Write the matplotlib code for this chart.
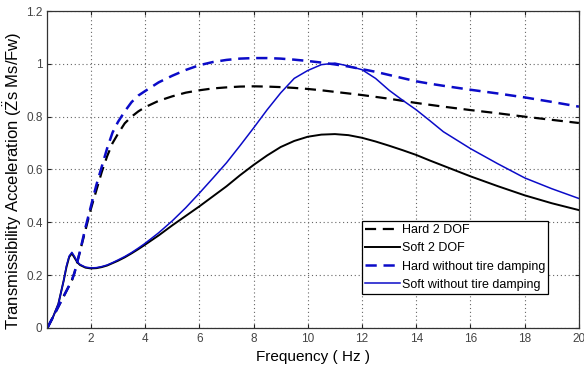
import matplotlib
matplotlib.use("Agg")
import matplotlib.pyplot as plt

plt.rcParams['font.family'] = ['Liberation Sans', 'DejaVu Sans']
plt.rcParams['mathtext.fontset'] = 'custom'
plt.rcParams['mathtext.rm'] = 'Liberation Sans'
plt.rcParams['mathtext.it'] = 'Liberation Sans'

freq = [0.4, 0.6, 0.8, 1.0, 1.1, 1.2, 1.3, 1.4, 1.5, 1.6, 1.8, 2.0, 2.2, 2.4, 2.6,
        2.8, 3.0, 3.25, 3.5, 3.75, 4, 4.5, 5, 5.5, 6, 6.5, 7, 7.5, 8, 8.5, 9, 9.5,
        10, 10.5, 11, 11.5, 12, 12.5, 13, 13.5, 14, 14.5, 15, 16, 17, 18, 19, 20]

hard_2dof = [0.0, 0.04, 0.08, 0.12, 0.14, 0.16, 0.18, 0.21, 0.25, 0.29, 0.37, 0.45,
             0.52, 0.59, 0.65, 0.70, 0.735, 0.775, 0.80, 0.82, 0.836, 0.86, 0.877,
             0.891, 0.900, 0.907, 0.911, 0.914, 0.915, 0.914, 0.912, 0.909, 0.905,
             0.900, 0.894, 0.888, 0.882, 0.875, 0.868, 0.860, 0.852, 0.845, 0.838,
             0.825, 0.813, 0.800, 0.788, 0.776]

soft_2dof = [0.0, 0.04, 0.09, 0.18, 0.23, 0.268, 0.282, 0.265, 0.248, 0.238, 0.228,
             0.225, 0.226, 0.23, 0.236, 0.245, 0.254, 0.267, 0.282, 0.298, 0.315,
             0.35, 0.388, 0.424, 0.46, 0.498, 0.536, 0.578, 0.617, 0.653, 0.685,
             0.708, 0.724, 0.732, 0.734, 0.73, 0.72, 0.706, 0.69, 0.673, 0.655,
             0.634, 0.614, 0.574, 0.537, 0.502, 0.472, 0.446]

hard_no_tire = [0.0, 0.04, 0.08, 0.12, 0.14, 0.16, 0.18, 0.21, 0.25, 0.29, 0.38, 0.46,
                0.54, 0.61, 0.68, 0.74, 0.78, 0.82, 0.855, 0.88, 0.897, 0.93, 0.955,
                0.977, 0.995, 1.007, 1.015, 1.02, 1.022, 1.022, 1.02, 1.016, 1.011,
                1.005, 0.998, 0.99, 0.98, 0.97, 0.958, 0.946, 0.934, 0.925, 0.917,
                0.902, 0.888, 0.873, 0.856, 0.838]

soft_no_tire = [0.005, 0.04, 0.09, 0.18, 0.235, 0.272, 0.286, 0.27, 0.25, 0.24, 0.23,
                0.227, 0.228, 0.232, 0.238, 0.247, 0.257, 0.27, 0.285, 0.302, 0.32,
                0.36, 0.405, 0.455, 0.51, 0.567, 0.625, 0.69, 0.757, 0.826, 0.89,
                0.945, 0.975, 0.997, 1.003, 0.992, 0.978, 0.945, 0.9, 0.862, 0.826,
                0.785, 0.743, 0.679, 0.622, 0.568, 0.527, 0.49]

labels = ['Hard 2 DOF', 'Soft 2 DOF', 'Hard without tire damping',
          'Soft without tire damping']
xticks = [2, 4, 6, 8, 10, 12, 14, 16, 18, 20]
yticks = [0, 0.2, 0.4, 0.6, 0.8, 1.0, 1.2]
ytick_labels = ['0', '0.2', '0.4', '0.6', '0.8', '1', '1.2']

blue = '#0b0bc8'

fig = plt.figure(figsize=(5.84, 3.70), dpi=100)
ax = fig.add_axes([0.0813, 0.114, 0.91, 0.856])

ax.plot(freq, hard_2dof, color='black', lw=1.6, linestyle=(0, (5, 3)), label=labels[0])
ax.plot(freq, soft_2dof, color='black', lw=1.4, label=labels[1])
ax.plot(freq, hard_no_tire, color=blue, lw=1.8, linestyle=(0, (4.5, 2.7)), label=labels[2])
ax.plot(freq, soft_no_tire, color=blue, lw=1.1, label=labels[3])

ax.set_xlim(0.4, 20)
ax.set_ylim(0, 1.2)
ax.set_xticks(xticks)
ax.set_xticklabels([str(t) for t in xticks])
ax.set_yticks(yticks)
ax.set_yticklabels(ytick_labels)
ax.tick_params(direction='in', top=True, right=True, labelsize=8.5,
               labelcolor='#444444', length=3, color='#222222')
ax.grid(True, linestyle=(0, (1, 2.5)), color='#666666', lw=0.8)
for s in ax.spines.values():
    s.set_color('#333333')
    s.set_linewidth(0.9)

ax.set_xlabel('Frequency ( Hz )', fontsize=11, labelpad=4)
ax.set_ylabel(r'Transmissibility Acceleration ($\ddot{\mathrm{Z}}$s Ms/Fw)', fontsize=12)
ax.yaxis.set_label_coords(-0.045, 0.465)

leg = ax.legend(loc='lower left', bbox_to_anchor=(0.5917, 0.107), fontsize=9,
                frameon=True, fancybox=False, edgecolor='black', framealpha=1,
                handlelength=2.8, handletextpad=0.15, borderpad=0.25,
                labelspacing=0.5, borderaxespad=0)
leg.get_frame().set_linewidth(0.9)

fig.savefig('out.png', dpi=100)
